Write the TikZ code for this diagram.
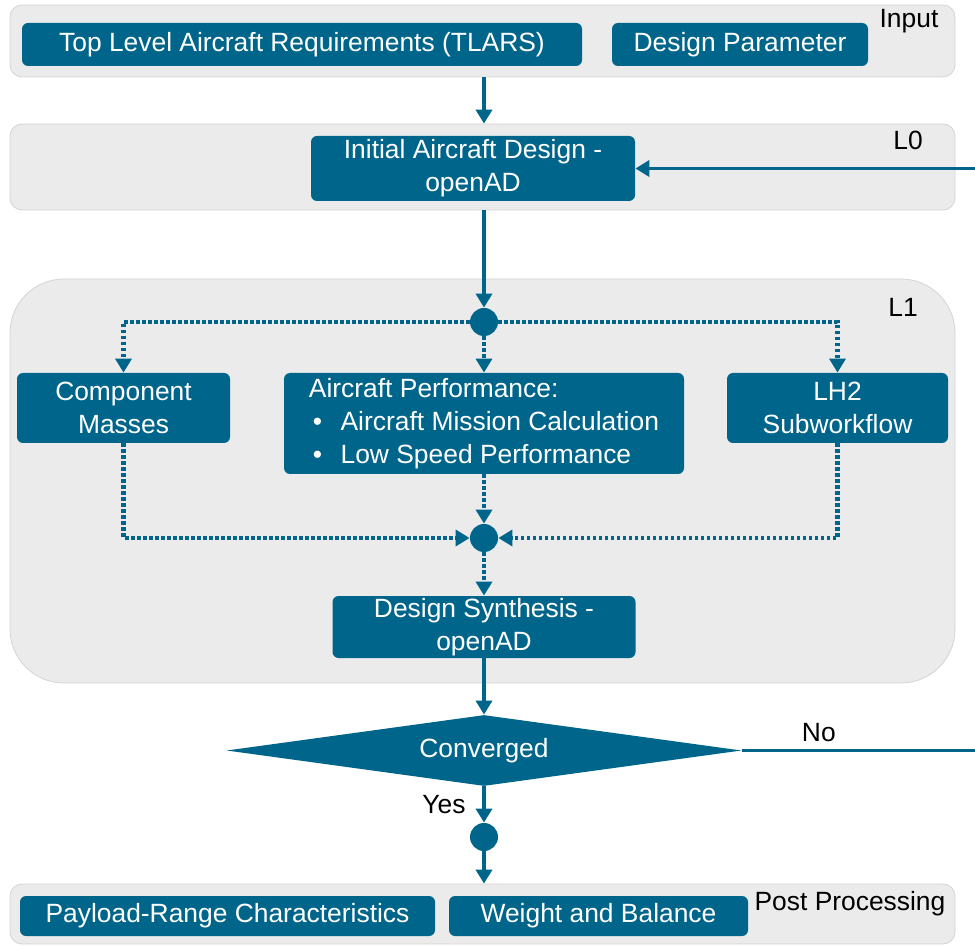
\documentclass[tikz,border=0pt]{standalone}
\usepackage{fontspec}
\setmainfont{Liberation Sans}
\usetikzlibrary{positioning}
\usetikzlibrary{calc}
\usetikzlibrary{arrows.meta}
\usetikzlibrary{shapes.geometric}
\definecolor{boxblue}{HTML}{00658A}
\definecolor{panelgray}{HTML}{EBEBEB}
\definecolor{panelline}{HTML}{D4D4D4}
\tikzset{
	every node/.style={font=\fontsize{13.2}{16.5}\selectfont},
	panel/.style={draw=panelline, fill=panelgray, rounded corners=6pt, thin},
	box/.style={fill=boxblue, text=white, rounded corners=3pt, align=center, inner sep=0pt},
	fork/.style={circle, fill=boxblue, minimum size=14pt, inner sep=0pt},
	flow/.style={draw=boxblue, line width=1.9pt, -{Triangle[length=7pt,width=8pt]}},
	dotflow/.style={flow, line width=2.2pt, dash pattern=on 1.8pt off 1.2pt},
	plain/.style={draw=boxblue, line width=1.9pt},
	tag/.style={text=black}
}

\begin{document}
\begin{tikzpicture}[x=0.5pt, y=-0.5pt]
	% Frame
	\useasboundingbox (0,0) rectangle (975,946);

	% Panels
	\node (input) [panel, minimum width=472.5pt, minimum height=36pt] at (482.5,41) {};
	\node (l0) [panel, minimum width=472.5pt, minimum height=43pt] at (482.5,167) {};
	\node (l1) [panel, rounded corners=27pt, minimum width=472.5pt, minimum height=202pt] at (482.5,481) {};
	\node (post) [panel, minimum width=472.5pt, minimum height=30pt] at (482.5,914) {};

	% Panel titles
	\node (tinput) [tag] at (909,21) {Input};
	\node (tl0) [tag] at (908,140) {L0};
	\node (tl1) [tag] at (903,307) {L1};
	\node (tpost) [tag] at (850,904) {Post Processing};

	% Steps
	\node (tlars) [box, minimum width=280pt, minimum height=21.5pt] at (302,44.5) {Top Level Aircraft Requirements (TLARS)};
	\node (param) [box, minimum width=128pt, minimum height=21.5pt] at (740,44.5) {Design Parameter};
	\node (init) [box, minimum width=162pt, minimum height=32.5pt] at (473,168.5) {Initial Aircraft Design -\\openAD};

	\node (split) [fork] at (484,322) {};
	\node (mass) [box, minimum width=106.5pt, minimum height=35pt] at (123.5,408) {Component\\Masses};
	\node (perf) [box, align=left, minimum width=200pt, minimum height=50.5pt] at (484,423.5)
		{Aircraft Performance:\\
		 \makebox[1.2em][l]{\hspace{0.15em}\textbullet}Aircraft Mission Calculation\\
		 \makebox[1.2em][l]{\hspace{0.15em}\textbullet}Low Speed Performance};
	\node (lh2) [box, minimum width=110.5pt, minimum height=35pt] at (837.5,408) {LH2\\Subworkflow};
	\node (merge) [fork] at (484,538) {};
	\node (synth) [box, minimum width=151.5pt, minimum height=31pt] at (484,627) {Design Synthesis -\\openAD};

	\node (conv) [diamond, aspect=7.25, fill=boxblue, text=white, inner sep=0pt, minimum width=257.5pt, minimum height=35.5pt] at (484,750.5) {Converged};
	\node (done) [fork] at (484,837) {};

	\node (payload) [box, minimum width=207.5pt, minimum height=20pt] at (227.5,916) {Payload-Range Characteristics};
	\node (wb) [box, minimum width=149.5pt, minimum height=20pt] at (598.5,916) {Weight and Balance};

	% Loop ends
	\coordinate (noend) at (975,750.5);
	\coordinate (loopin) at (975,168.5);

	% Connectors
	\path (input.south -| split) edge[flow] (l0.north -| split);
	\path (l0.south -| split) edge[flow] (split);
	\draw[dotflow] (split) -| (mass);
	\draw[dotflow] (split) -| (lh2);
	\path (split) edge[dotflow] (perf);
	\draw[dotflow] (mass) |- (merge);
	\draw[dotflow] (lh2) |- (merge);
	\path (perf) edge[dotflow] (merge);
	\path (merge) edge[dotflow] (synth);
	\path (synth) edge[flow] (conv);
	\path (conv) edge[flow] node[tag, left=5pt] {Yes} (done);
	\path (done) edge[flow] (post.north -| done);
	\draw[plain] (conv.east) -- node[tag, above, pos=0.33] {No} (noend);
	\path (loopin) edge[flow] (init);

\end{tikzpicture}
\end{document}
